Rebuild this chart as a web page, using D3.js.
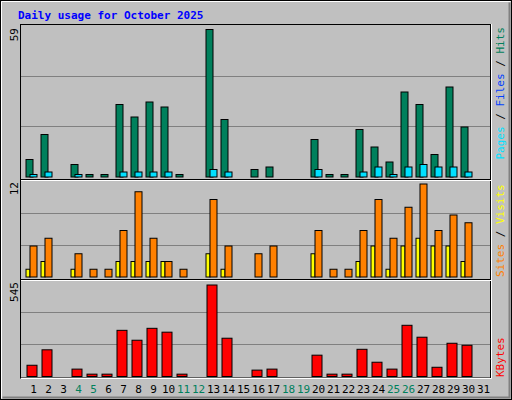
<!DOCTYPE html>
<html>
<head>
<meta charset="UTF-8">
<script src="https://d3js.org/d3.v7.min.js"></script>
<style>
  body { margin: 0; background: #c0c0c0; }
  text { font-family: "DejaVu Sans Mono", monospace; font-size: 11px; }
</style>
</head>
<body>
<svg id="chart" width="512" height="400"></svg>
<script>
const days = d3.range(1, 32);
const weekend = [4, 5, 11, 12, 18, 19, 25, 26];
const hits   = [7,17,0,5,1,1,29,24,30,28,1,0,59,23,0,3,4,0,0,15,1,1,19,12,6,34,29,9,36,20,0];
const pages  = [1,2,0,1,0,0,2,2,2,2,0,0,3,2,0,0,0,0,0,3,0,0,2,4,1,4,5,4,4,2,0];
const sites  = [4,5,0,3,1,1,6,11,5,2,1,0,10,4,0,3,4,0,0,6,1,1,6,10,5,9,12,6,8,7,0];
const visits = [1,2,0,1,0,0,2,2,2,2,0,0,3,1,0,0,0,0,0,3,0,0,2,4,1,4,5,4,4,2,0];
const kbytes = [67,159,0,44,14,14,275,216,287,264,14,0,545,228,0,38,44,0,0,127,14,14,162,85,44,305,234,55,198,186,0];

const svg = d3.select("#chart");
const green = "#00805c";

// frame
svg.append("rect").attr("x", 0.5).attr("y", 0.5).attr("width", 511).attr("height", 399)
  .attr("fill", "#c0c0c0").attr("stroke", "#000");
svg.append("path").attr("d", "M1.5,398.5V1.5H510.5").attr("fill", "none").attr("stroke", "#fff");
svg.append("path").attr("d", "M2.5,397.5H509.5V2.5").attr("fill", "none").attr("stroke", "#808080").attr("stroke-width", 2);

svg.append("text").attr("x", 18).attr("y", 19).attr("fill", "#0000ff")
  .attr("font-weight", "bold").text("Daily usage for October 2025");

const x = d3.scaleBand().domain(days).range([25, 490]);

const panels = [
  { top: 26, base: 176.5, max: 59 },
  { top: 180.5, base: 276.5, max: 12 },
  { top: 280.5, base: 376, max: 545 }
];

// panel boxes
svg.append("rect").attr("x", 20.5).attr("y", 24.5).attr("width", 470).attr("height", 353.5)
  .attr("fill", "none").attr("stroke", "#000");
svg.append("path").attr("d", "M21,378.5H491.5V24").attr("fill", "none").attr("stroke", "#fff");
[179.5, 279.5].forEach(yy => {
  svg.append("line").attr("x1", 21).attr("x2", 491).attr("y1", yy).attr("y2", yy).attr("stroke", "#000");
  svg.append("line").attr("x1", 21).attr("x2", 491).attr("y1", yy + 1).attr("y2", yy + 1).attr("stroke", "#fff");
});

panels.forEach(p => {
  p.y = d3.scaleLinear().domain([0, p.max]).range([p.base, p.top + (p === panels[2] ? 4 : 3)]);
  [1, 2].forEach(k => {
    const gy = Math.round(p.base - (p.base - p.top) * k / 3) + 0.5;
    svg.append("line").attr("x1", 21).attr("x2", 490).attr("y1", gy).attr("y2", gy)
      .attr("stroke", "#808080");
  });
});

function bars(vals, p, dx, w, color) {
  svg.append("g").selectAll("rect").data(days.filter((d, i) => vals[i] > 0)).join("rect")
    .attr("x", d => x(d) + dx + 0.5)
    .attr("y", d => p.y(vals[d - 1]) + 0.5)
    .attr("width", w)
    .attr("height", d => p.base - p.y(vals[d - 1]))
    .attr("fill", color).attr("stroke", "#000");
}
bars(hits, panels[0], 0.5, 7, green);
bars(pages, panels[0], 4.5, 7, "#00e0ff");
bars(visits, panels[1], 0.5, 4, "#ffff00");
bars(sites, panels[1], 4.5, 7, "#ff8000");
bars(kbytes, panels[2], 1.5, 10, "#ff0000");

// day labels
svg.append("g").selectAll("text").data(days).join("text")
  .attr("x", d => x(d) + x.bandwidth() / 2 + 1)
  .attr("y", 393).attr("text-anchor", "middle")
  .attr("fill", d => weekend.includes(d) ? green : "#000")
  .text(d => d);

// max labels on the left
[[59, 28], [12, 182], [545, 282]].forEach(([v, yy]) => {
  svg.append("text").attr("transform", `translate(18,${yy}) rotate(-90)`)
    .attr("text-anchor", "end").text(v);
});

// legends on the right
function legend(parts, yy, anchor) {
  const t = svg.append("text").attr("transform", `translate(504,${yy}) rotate(-90)`)
    .attr("text-anchor", anchor).attr("xml:space", "preserve");
  parts.forEach(([s, c]) => t.append("tspan").attr("fill", c).text(s));
}
legend([["Pages", "#00e0ff"], [" / ", "#000"], ["Files", "#0040ff"], [" / ", "#000"], ["Hits", green]], 27, "end");
legend([["Sites", "#ff8000"], [" / ", "#000"], ["Visits", "#ffff00"]], 277, "start");
legend([["KBytes", "#ff0000"]], 377, "start");
</script>
</body>
</html>
